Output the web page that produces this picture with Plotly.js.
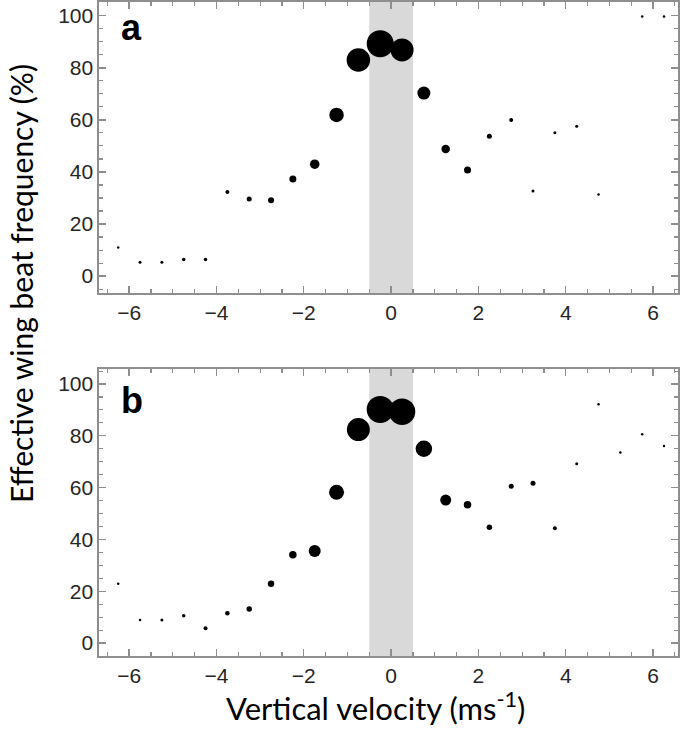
<!DOCTYPE html>
<html>
<head>
<meta charset="utf-8">
<script src="https://cdn.plot.ly/plotly-3.0.1.min.js"></script>
<style>html,body{margin:0;padding:0;background:#fff;}#chart{width:685px;height:741px;}</style>
</head>
<body>
<div id="chart"></div>
<script>
// Vertical velocity bin centres (m/s)
const velocity = [-6.25,-5.75,-5.25,-4.75,-4.25,-3.75,-3.25,-2.75,-2.25,-1.75,-1.25,-0.75,-0.25,0.25,0.75,1.25,1.75,2.25,2.75,3.25,3.75,4.25,4.75,5.25,5.75,6.25];

// Panel a: effective wing beat frequency (%) and relative point weight
const aFreq   = [11.0,5.3,5.3,6.4,6.4,32.3,29.6,29.1,37.3,43.0,61.9,83.0,89.3,86.9,70.3,48.8,40.8,53.7,60.0,32.7,55.1,57.6,31.3,null,99.7,99.7];
const aWeight = [2.5,3,3,3.5,3.5,4,5,6,7,9.5,14.5,23.5,27,23,13,8.5,7,5,4,3,3,3,2.5,0,2.5,2.5];

// Panel b
const bFreq   = [22.9,8.9,8.9,10.5,5.7,11.5,13.1,22.9,34.1,35.5,58.2,82.4,90.2,89.3,75.0,55.2,53.4,44.7,60.5,61.7,44.3,69.2,92.2,73.6,80.6,76.1];
const bWeight = [2.5,2.5,3,3.5,4,4.5,5.5,6.5,7.5,12,15,23,27,26.5,16.5,11,7.5,5.5,5,5,4,3,2.5,2.5,2.5,2.5];

// Shaded hover band (m/s)
const band = [-0.5, 0.5];
const xTicks = [-6,-4,-2,0,2,4,6];
const yTicks = [0,20,40,60,80,100];

function series(y, w, xa, ya){
  return {
    x: velocity, y: y, xaxis: xa, yaxis: ya,
    type: 'scatter', mode: 'markers', hoverinfo: 'x+y',
    marker: {color: '#000', opacity: 1, size: w, sizemode: 'diameter', line: {width: 0}}
  };
}

const data = [series(aFreq, aWeight, 'x', 'y'), series(bFreq, bWeight, 'x2', 'y2')];

const frame = '#8e8e8e';
const tickFont = {family: 'Liberation Sans, Arial, sans-serif', size: 21, color: '#262626'};
function xAxis(dom, anchor){
  return {
    domain: dom, anchor: anchor, range: [-6.69, 6.57],
    tickvals: xTicks, ticks: 'inside', ticklen: 7, tickwidth: 1.3, tickcolor: frame,
    minor: {dtick: 0.5, ticks: 'inside', ticklen: 4, tickwidth: 1.1, tickcolor: frame},
    showline: true, linecolor: frame, linewidth: 1.6, mirror: 'allticks',
    showgrid: false, zeroline: false, tickfont: tickFont
  };
}
function yAxis(dom, anchor, range){
  return {
    domain: dom, anchor: anchor, range: range,
    tickvals: yTicks, ticks: 'inside', ticklen: 7, tickwidth: 1.3, tickcolor: frame,
    minor: {dtick: 5, ticks: 'inside', ticklen: 4, tickwidth: 1.1, tickcolor: frame},
    showline: true, linecolor: frame, linewidth: 1.6, mirror: 'allticks',
    showgrid: false, zeroline: false, tickfont: tickFont
  };
}

const xd = [99/685, 678/685];
const layout = {
  width: 685, height: 741,
  margin: {l: 0, r: 0, t: 0, b: 0},
  paper_bgcolor: '#fff', plot_bgcolor: '#fff',
  showlegend: false,
  xaxis: xAxis(xd, 'y'),
  yaxis: yAxis([1-293/741, 1-2/741], 'x', [-6.5, 105.3]),
  xaxis2: xAxis(xd, 'y2'),
  yaxis2: yAxis([1-656/741, 1-369/741], 'x2', [-5.0, 105.8]),
  shapes: [
    {type: 'rect', xref: 'x', yref: 'y domain', x0: band[0], x1: band[1], y0: 0, y1: 1, fillcolor: '#d9d9d9', line: {width: 0}, layer: 'below'},
    {type: 'rect', xref: 'x2', yref: 'y2 domain', x0: band[0], x1: band[1], y0: 0, y1: 1, fillcolor: '#d9d9d9', line: {width: 0}, layer: 'below'}
  ],
  annotations: [
    {text: '<b>a</b>', xref: 'paper', yref: 'paper', x: 119/685, y: 1-27/741, xanchor: 'left', yanchor: 'middle', showarrow: false,
     font: {family: 'Liberation Sans, Arial, sans-serif', size: 36, color: '#000'}},
    {text: '<b>b</b>', xref: 'paper', yref: 'paper', x: 119/685, y: 1-400/741, xanchor: 'left', yanchor: 'middle', showarrow: false,
     font: {family: 'Liberation Sans, Arial, sans-serif', size: 36, color: '#000'}},
    {text: 'Vertical velocity (ms<sup>-1</sup>)', xref: 'paper', yref: 'paper', x: 375/685, y: 1-706/741, xanchor: 'center', yanchor: 'middle', showarrow: false,
     font: {family: 'Lato, sans-serif', size: 31, color: '#000'}},
    {text: 'Effective wing beat frequency (%)', xref: 'paper', yref: 'paper', x: 21/685, y: 1-284/741, xanchor: 'center', yanchor: 'middle', showarrow: false, textangle: -90,
     font: {family: 'Lato, sans-serif', size: 30, color: '#000'}}
  ]
};

Plotly.newPlot('chart', data, layout, {displayModeBar: false, staticPlot: true});
</script>
</body>
</html>
